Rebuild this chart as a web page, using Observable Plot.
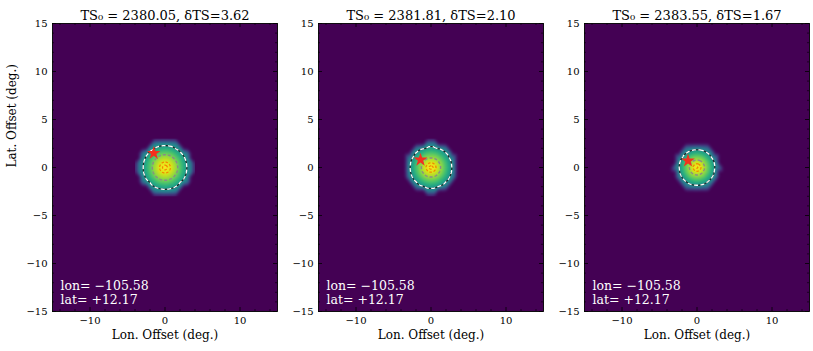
<!DOCTYPE html>
<html><head><meta charset="utf-8">
<script src="https://cdn.jsdelivr.net/npm/d3@7"></script>
<script src="https://cdn.jsdelivr.net/npm/@observablehq/plot@0.6"></script>
<style>
body{margin:0;background:#fff;}
#wrap{position:relative;width:813px;height:351px;overflow:hidden;background:#fff;}
#wrap svg{position:absolute;top:0;}
</style></head><body><div id="wrap"></div>
<script>
// ---- data ----
const ts0 = [2380.05, 2381.81, 2383.55];
const deltaTS = [3.62, 2.10, 1.67];
const srcLon = [-105.58, -105.58, -105.58];
const srcLat = [12.17, 12.17, 12.17];
const starLon = [-1.5, -1.4, -1.2];
const starLat = [1.5, 0.8, 0.7];
const gridLon = [-4, -3.5, -3, -2.5, -2, -1.5, -1, -0.5, 0, 0.5, 1, 1.5, 2, 2.5, 3, 3.5, 4];
const gridLat = [3, 2.5, 2, 1.5, 1, 0.5, 0, -0.5, -1, -1.5, -2, -2.5, -3];
const tsMap1 = [
  [0,0,0,0,0,0,0,0,0,0,0,0,0,0,0,0,0],
  [0,0,0,0,0,40,44,46,47,46,44,40,0,0,0,0,0],
  [0,0,0,0,46,52,57,60,62,60,57,52,46,0,0,0,0],
  [0,0,39,48,57,64,71,75,76,75,71,64,57,48,39,0,0],
  [0,0,46,56,66,75,82,87,89,87,82,75,66,56,46,0,0],
  [0,39,50,61,72,82,90,95,97,95,90,82,72,61,50,39,0],
  [0,40,51,63,74,85,93,98,100,98,93,85,74,63,51,40,0],
  [0,39,50,61,72,82,90,95,97,95,90,82,72,61,50,39,0],
  [0,0,46,56,66,75,82,87,89,87,82,75,66,56,46,0,0],
  [0,0,39,48,57,64,71,75,76,75,71,64,57,48,39,0,0],
  [0,0,0,0,46,52,57,60,62,60,57,52,46,0,0,0,0],
  [0,0,0,0,0,40,44,46,47,46,44,40,0,0,0,0,0],
  [0,0,0,0,0,0,0,0,0,0,0,0,0,0,0,0,0]
];
const tsMap2 = [
  [0,0,0,0,0,0,0,0,0,0,0,0,0,0,0,0,0],
  [0,0,0,0,0,0,0,40,40,40,0,0,0,0,0,0,0],
  [0,0,0,0,39,46,51,55,56,55,51,46,39,0,0,0,0],
  [0,0,0,42,51,59,66,71,72,71,66,59,51,42,0,0,0],
  [0,0,39,50,61,71,79,85,86,85,79,71,61,50,39,0,0],
  [0,0,44,55,68,79,88,94,96,94,88,79,68,55,44,0,0],
  [0,0,45,58,70,82,92,98,100,98,92,82,70,58,45,0,0],
  [0,0,44,55,68,79,88,94,96,94,88,79,68,55,44,0,0],
  [0,0,39,50,61,71,79,85,86,85,79,71,61,50,39,0,0],
  [0,0,0,42,51,59,66,71,72,71,66,59,51,42,0,0,0],
  [0,0,0,0,39,46,51,55,56,55,51,46,39,0,0,0,0],
  [0,0,0,0,0,0,0,40,40,40,0,0,0,0,0,0,0],
  [0,0,0,0,0,0,0,0,0,0,0,0,0,0,0,0,0]
];
const tsMap3 = [
  [0,0,0,0,0,0,0,0,0,0,0,0,0,0,0,0,0],
  [0,0,0,0,0,0,0,0,0,0,0,0,0,0,0,0,0],
  [0,0,0,0,0,35,40,44,45,44,40,35,0,0,0,0,0],
  [0,0,0,0,40,49,57,62,64,62,57,49,40,0,0,0,0],
  [0,0,0,39,51,63,73,80,82,80,73,63,51,39,0,0,0],
  [0,0,0,45,59,73,84,92,95,92,84,73,59,45,0,0,0],
  [0,0,34,47,62,76,89,97,100,97,89,76,62,47,34,0,0],
  [0,0,0,45,59,73,84,92,95,92,84,73,59,45,0,0,0],
  [0,0,0,39,51,63,73,80,82,80,73,63,51,39,0,0,0],
  [0,0,0,0,40,49,57,62,64,62,57,49,40,0,0,0,0],
  [0,0,0,0,0,35,40,44,45,44,40,35,0,0,0,0,0],
  [0,0,0,0,0,0,0,0,0,0,0,0,0,0,0,0,0],
  [0,0,0,0,0,0,0,0,0,0,0,0,0,0,0,0,0]
];
const tsMaps = [tsMap1, tsMap2, tsMap3];
// contour levels: outer (white), middle (gray), inner (orange)
const levelOuter = [53, 50, 50];
const levelMiddle = [80, 85.5, 87];
const levelInner = [[95, 98], [95, 98], [95, 98]];
const xMajor = [-10, 0, 10];
const xMinor = [-14, -12, -8, -6, -4, -2, 2, 4, 6, 8, 12, 14];
const yMajor = [-15, -10, -5, 0, 5, 10, 15];
const yMinor = [-14, -13, -12, -11, -9, -8, -7, -6, -4, -3, -2, -1, 1, 2, 3, 4, 6, 7, 8, 9, 11, 12, 13, 14];

// ---- layout ----
const W = 225, H = 288, mL = 52, mR = 4, mT = 23, mB = 40;
const lefts = [0, 266, 532];
const font = "DejaVu Serif";
const signed = (v) => (v < 0 ? "\u2212" + Math.abs(v).toFixed(2) : "+" + v.toFixed(2));

const wrap = document.getElementById("wrap");
for (let k = 0; k < 3; k++) {
  const pts = gridLat.flatMap((la, i) => gridLon.map((lo, j) => ({lon: lo, lat: la, ts: tsMaps[k][i][j]})));
  const cOpts = {x: "lon", y: "lat", value: "ts", interpolate: "barycentric", blur: 2, pixelSize: 0.5,
    x1: -4, x2: 4, y1: -3, y2: 3, fill: "none"};
  const marks = [
    Plot.frame({fill: "#440154", stroke: "none"}),
    Plot.raster(pts, {x: "lon", y: "lat", fill: "ts", interpolate: "barycentric", blur: 1,
      x1: -4, x2: 4, y1: -3, y2: 3}),
    Plot.contour(pts, {...cOpts, thresholds: [levelOuter[k]], stroke: "#222", strokeWidth: 1.1}),
    Plot.contour(pts, {...cOpts, thresholds: [levelOuter[k]], stroke: "white", strokeWidth: 1.3, strokeDasharray: "4,2.5"}),
    Plot.contour(pts, {...cOpts, thresholds: [levelMiddle[k]], stroke: "#8a8a8a", strokeWidth: 1.4, strokeDasharray: "3,2"}),
    Plot.contour(pts, {...cOpts, thresholds: levelInner[k], stroke: "#f08a00", strokeWidth: 1.3, strokeDasharray: "2.5,1.8"}),
    Plot.dot([{lon: starLon[k], lat: starLat[k]}], {x: "lon", y: "lat", symbol: "star", r: 4.3, fill: "#f3301e", stroke: "none"}),
    Plot.tickX(xMajor, {x: Plot.identity, insetBottom: H - 4, stroke: "black", strokeWidth: 0.8}),
    Plot.tickX(xMajor, {x: Plot.identity, insetTop: H - 4, stroke: "black", strokeWidth: 0.8}),
    Plot.tickX(xMinor, {x: Plot.identity, insetBottom: H - 2, stroke: "black", strokeWidth: 0.6}),
    Plot.tickX(xMinor, {x: Plot.identity, insetTop: H - 2, stroke: "black", strokeWidth: 0.6}),
    Plot.tickY(yMajor, {y: Plot.identity, insetRight: W - 4, stroke: "black", strokeWidth: 0.8}),
    Plot.tickY(yMajor, {y: Plot.identity, insetLeft: W - 4, stroke: "black", strokeWidth: 0.8}),
    Plot.tickY(yMinor, {y: Plot.identity, insetRight: W - 2, stroke: "black", strokeWidth: 0.6}),
    Plot.tickY(yMinor, {y: Plot.identity, insetLeft: W - 2, stroke: "black", strokeWidth: 0.6}),
    Plot.frame({stroke: "black", strokeWidth: 0.9}),
    Plot.text([`TS\u2080 = ${ts0[k].toFixed(2)}, \u03B4TS=${deltaTS[k].toFixed(2)}`],
      {frameAnchor: "top", dy: -13, fontSize: 13, fill: "black"}),
    Plot.text([`lon= ${signed(srcLon[k])}`], {frameAnchor: "bottom-left", dx: 8, dy: -22, textAnchor: "start", fontSize: 12.5, fill: "white"}),
    Plot.text([`lat= ${signed(srcLat[k])}`], {frameAnchor: "bottom-left", dx: 8, dy: -8, textAnchor: "start", fontSize: 12.5, fill: "white"}),
    Plot.text(["Lon. Offset (deg.)"], {frameAnchor: "bottom", dy: 27, fontSize: 12, fill: "black"})
  ];
  if (k === 0) {
    marks.push(Plot.text(["Lat. Offset (deg.)"], {frameAnchor: "left", dx: -40, rotate: -90, fontSize: 12, fill: "black"}));
  }
  const chart = Plot.plot({
    width: mL + W + mR, height: mT + H + mB,
    marginLeft: mL, marginRight: mR, marginTop: mT, marginBottom: mB,
    style: {fontFamily: font, fontSize: "10px", background: "transparent", overflow: "visible", color: "black"},
    x: {domain: [-15, 15], ticks: xMajor, tickSize: 0, tickPadding: 5, label: null},
    y: {domain: [-15, 15], ticks: yMajor, tickSize: 0, tickPadding: 5, label: null},
    color: {type: "linear", scheme: "viridis", domain: [0, 100]},
    marks
  });
  chart.style.left = lefts[k] + "px";
  wrap.appendChild(chart);
}
</script>
</body></html>
